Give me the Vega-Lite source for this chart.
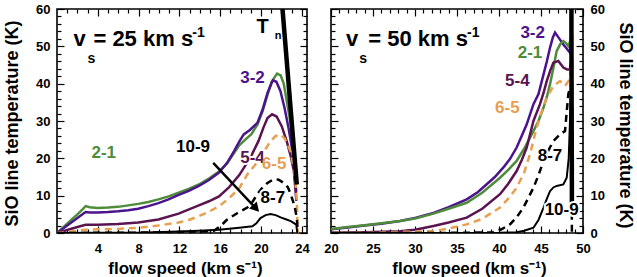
{
  "$schema": "https://vega.github.io/schema/vega-lite/v6.json",
  "padding": {"left": 2, "top": 2, "right": 0, "bottom": 0},
  "spacing": 24,
  "bounds": "flush",
  "config": {
    "axis": {"labelFont": "Liberation Sans", "labelFontWeight": "bold", "labelFontSize": 13, "labelColor": "black",
             "titleFont": "Liberation Sans", "titleFontWeight": "bold", "titleFontSize": 17, "titleColor": "black",
             "tickColor": "black", "tickWidth": 1.2, "domain": false, "grid": false, "labelFlush": false, "labelOverlap": false},
    "view": {"stroke": "black", "strokeWidth": 1.6},
    "text": {"font": "Liberation Sans", "fontWeight": "bold"}
  },
  "datasets": {
    "linesL": [
      {"s":"2-1","v":0,"T":0},{"s":"2-1","v":0.5,"T":1.2},{"s":"2-1","v":1,"T":2.5},{"s":"2-1","v":1.5,"T":3.8},{"s":"2-1","v":2,"T":5},{"s":"2-1","v":2.5,"T":6.3},{"s":"2-1","v":2.81,"T":7.2},{"s":"2-1","v":3.2,"T":6.9},{"s":"2-1","v":4,"T":6.7},{"s":"2-1","v":4.99,"T":6.8},{"s":"2-1","v":5.98,"T":7.0},{"s":"2-1","v":6.97,"T":7.4},{"s":"2-1","v":7.96,"T":7.8},{"s":"2-1","v":8.95,"T":8.3},{"s":"2-1","v":9.94,"T":9.0},{"s":"2-1","v":10.93,"T":9.8},{"s":"2-1","v":11.92,"T":10.8},{"s":"2-1","v":12.91,"T":11.8},{"s":"2-1","v":13.9,"T":13.0},{"s":"2-1","v":14.89,"T":14.6},{"s":"2-1","v":15.88,"T":16.5},{"s":"2-1","v":16.67,"T":18.6},{"s":"2-1","v":17.37,"T":21.5},{"s":"2-1","v":17.86,"T":23.5},{"s":"2-1","v":18.45,"T":25},{"s":"2-1","v":19.05,"T":26.5},{"s":"2-1","v":19.64,"T":29},{"s":"2-1","v":20.14,"T":32.5},{"s":"2-1","v":20.63,"T":37},{"s":"2-1","v":21.03,"T":40.5},{"s":"2-1","v":21.57,"T":42.7},{"s":"2-1","v":21.92,"T":42.2},{"s":"2-1","v":22.22,"T":40},{"s":"2-1","v":22.51,"T":35.5},{"s":"2-1","v":22.91,"T":29},{"s":"2-1","v":23.21,"T":23.5},{"s":"2-1","v":23.45,"T":13},
      {"s":"3-2","v":0,"T":0},{"s":"3-2","v":0.5,"T":1},{"s":"3-2","v":1,"T":2},{"s":"3-2","v":1.5,"T":3},{"s":"3-2","v":2,"T":4},{"s":"3-2","v":2.5,"T":5},{"s":"3-2","v":2.81,"T":5.6},{"s":"3-2","v":3.2,"T":5.5},{"s":"3-2","v":4,"T":5.5},{"s":"3-2","v":4.99,"T":5.6},{"s":"3-2","v":5.98,"T":5.8},{"s":"3-2","v":6.97,"T":6.1},{"s":"3-2","v":7.96,"T":6.5},{"s":"3-2","v":8.95,"T":7.2},{"s":"3-2","v":9.94,"T":8.0},{"s":"3-2","v":10.93,"T":9.0},{"s":"3-2","v":11.92,"T":10.2},{"s":"3-2","v":12.91,"T":11.3},{"s":"3-2","v":13.9,"T":12.6},{"s":"3-2","v":14.89,"T":14.2},{"s":"3-2","v":15.88,"T":16.2},{"s":"3-2","v":16.67,"T":18.8},{"s":"3-2","v":17.37,"T":22},{"s":"3-2","v":17.86,"T":24.5},{"s":"3-2","v":18.3,"T":26.4},{"s":"3-2","v":18.9,"T":27.6},{"s":"3-2","v":19.64,"T":29.5},{"s":"3-2","v":20.14,"T":33},{"s":"3-2","v":20.63,"T":37.5},{"s":"3-2","v":21.03,"T":40.2},{"s":"3-2","v":21.17,"T":40.9},{"s":"3-2","v":21.5,"T":40.5},{"s":"3-2","v":21.9,"T":38},{"s":"3-2","v":22.3,"T":33.5},{"s":"3-2","v":22.7,"T":28},{"s":"3-2","v":23.1,"T":21.5},{"s":"3-2","v":23.45,"T":11},
      {"s":"5-4","v":0,"T":0},{"s":"5-4","v":1,"T":0.8},{"s":"5-4","v":2,"T":1.6},{"s":"5-4","v":2.81,"T":2.2},{"s":"5-4","v":4,"T":2.2},{"s":"5-4","v":5.98,"T":2.4},{"s":"5-4","v":7.96,"T":2.8},{"s":"5-4","v":9.94,"T":3.6},{"s":"5-4","v":11.92,"T":5.2},{"s":"5-4","v":13.9,"T":7.4},{"s":"5-4","v":14.89,"T":8.5},{"s":"5-4","v":15.88,"T":9.8},{"s":"5-4","v":16.87,"T":12.3},{"s":"5-4","v":17.86,"T":15.5},{"s":"5-4","v":18.95,"T":20.2},{"s":"5-4","v":19.74,"T":24.6},{"s":"5-4","v":20.24,"T":28.3},{"s":"5-4","v":20.63,"T":30.8},{"s":"5-4","v":21.08,"T":31.8},{"s":"5-4","v":21.52,"T":31.2},{"s":"5-4","v":22.02,"T":28.6},{"s":"5-4","v":22.51,"T":24.6},{"s":"5-4","v":22.91,"T":20.5},{"s":"5-4","v":23.21,"T":16.6},{"s":"5-4","v":23.46,"T":8.6},
      {"s":"6-5","v":0,"T":0},{"s":"6-5","v":1,"T":0.3},{"s":"6-5","v":2,"T":0.6},{"s":"6-5","v":2.81,"T":0.9},{"s":"6-5","v":4,"T":1.0},{"s":"6-5","v":5.98,"T":1.1},{"s":"6-5","v":7.96,"T":1.4},{"s":"6-5","v":9.94,"T":2.0},{"s":"6-5","v":11.92,"T":2.8},{"s":"6-5","v":12.91,"T":3.5},{"s":"6-5","v":13.9,"T":4.5},{"s":"6-5","v":14.89,"T":5.7},{"s":"6-5","v":15.88,"T":7.2},{"s":"6-5","v":16.87,"T":9.3},{"s":"6-5","v":17.86,"T":12},{"s":"6-5","v":18.65,"T":15.7},{"s":"6-5","v":19.35,"T":18},{"s":"6-5","v":19.94,"T":20.2},{"s":"6-5","v":20.44,"T":22.5},{"s":"6-5","v":20.93,"T":24.6},{"s":"6-5","v":21.43,"T":26},{"s":"6-5","v":21.9,"T":26.4},{"s":"6-5","v":22.32,"T":25.3},{"s":"6-5","v":22.88,"T":22},{"s":"6-5","v":23.15,"T":18},{"s":"6-5","v":23.36,"T":13.9},{"s":"6-5","v":23.5,"T":8.6},{"s":"6-5","v":23.6,"T":0},
      {"s":"8-7","v":0,"T":0},{"s":"8-7","v":4,"T":0.05},{"s":"8-7","v":7.96,"T":0.1},{"s":"8-7","v":11.92,"T":0.25},{"s":"8-7","v":13.9,"T":0.4},{"s":"8-7","v":14.89,"T":0.5},{"s":"8-7","v":15.38,"T":0.6},{"s":"8-7","v":16.08,"T":2.0},{"s":"8-7","v":16.67,"T":3.6},{"s":"8-7","v":17.66,"T":5.3},{"s":"8-7","v":18.65,"T":6.8},{"s":"8-7","v":19.15,"T":8.3},{"s":"8-7","v":19.64,"T":10.4},{"s":"8-7","v":20.14,"T":12.2},{"s":"8-7","v":20.63,"T":13.4},{"s":"8-7","v":21.23,"T":14.4},{"s":"8-7","v":21.72,"T":14.3},{"s":"8-7","v":22.22,"T":13.4},{"s":"8-7","v":22.61,"T":12.3},{"s":"8-7","v":22.91,"T":10.4},{"s":"8-7","v":23.3,"T":7},{"s":"8-7","v":23.5,"T":4},{"s":"8-7","v":23.6,"T":0.4},
      {"s":"10-9","v":0,"T":0},{"s":"10-9","v":4,"T":0.05},{"s":"10-9","v":7.96,"T":0.1},{"s":"10-9","v":11.92,"T":0.4},{"s":"10-9","v":13.9,"T":0.6},{"s":"10-9","v":15.88,"T":0.9},{"s":"10-9","v":17.86,"T":1.4},{"s":"10-9","v":19.15,"T":1.8},{"s":"10-9","v":19.54,"T":2.6},{"s":"10-9","v":19.94,"T":4.0},{"s":"10-9","v":20.44,"T":4.8},{"s":"10-9","v":20.93,"T":5.1},{"s":"10-9","v":21.43,"T":4.8},{"s":"10-9","v":21.92,"T":4.2},{"s":"10-9","v":22.42,"T":3.7},{"s":"10-9","v":22.91,"T":3.2},{"s":"10-9","v":23.3,"T":2.5},{"s":"10-9","v":23.45,"T":2.2},{"s":"10-9","v":23.55,"T":0},
      {"s":"Tn","v":22.1,"T":60},{"s":"Tn","v":23.5,"T":13}
    ],
    "linesR": [
      {"s":"3-2","v":20,"T":1.0},{"s":"3-2","v":22,"T":1.5},{"s":"3-2","v":24,"T":2.0},{"s":"3-2","v":26,"T":2.5},{"s":"3-2","v":28.2,"T":3.2},{"s":"3-2","v":30,"T":4.0},{"s":"3-2","v":32.2,"T":5.4},{"s":"3-2","v":34,"T":6.9},{"s":"3-2","v":36.15,"T":9.0},{"s":"3-2","v":37.5,"T":11},{"s":"3-2","v":38.5,"T":13},{"s":"3-2","v":39.5,"T":15},{"s":"3-2","v":40.5,"T":17.5},{"s":"3-2","v":41.3,"T":19.8},{"s":"3-2","v":42.1,"T":22.9},{"s":"3-2","v":42.7,"T":26},{"s":"3-2","v":43.3,"T":29.1},{"s":"3-2","v":44.1,"T":34.5},{"s":"3-2","v":44.7,"T":37.2},{"s":"3-2","v":45.3,"T":42.5},{"s":"3-2","v":45.7,"T":46},{"s":"3-2","v":46.07,"T":49.6},{"s":"3-2","v":46.4,"T":52.3},{"s":"3-2","v":46.67,"T":53.7},{"s":"3-2","v":47.2,"T":52},{"s":"3-2","v":47.66,"T":50.5},{"s":"3-2","v":48.1,"T":49.3},{"s":"3-2","v":48.45,"T":48.3},{"s":"3-2","v":48.6,"T":51},{"s":"3-2","v":48.65,"T":54},
      {"s":"2-1","v":20,"T":1.1},{"s":"2-1","v":22,"T":1.6},{"s":"2-1","v":24,"T":2.1},{"s":"2-1","v":26,"T":2.6},{"s":"2-1","v":28.2,"T":3.2},{"s":"2-1","v":30,"T":3.9},{"s":"2-1","v":32.2,"T":5.2},{"s":"2-1","v":34,"T":6.5},{"s":"2-1","v":36.15,"T":8.1},{"s":"2-1","v":38,"T":10.8},{"s":"2-1","v":40.12,"T":14.8},{"s":"2-1","v":41.1,"T":16.9},{"s":"2-1","v":42.1,"T":19.3},{"s":"2-1","v":43.1,"T":23},{"s":"2-1","v":44.1,"T":27.3},{"s":"2-1","v":44.7,"T":30},{"s":"2-1","v":45.3,"T":33.6},{"s":"2-1","v":45.7,"T":36.5},{"s":"2-1","v":46.07,"T":39.8},{"s":"2-1","v":46.5,"T":44.5},{"s":"2-1","v":46.87,"T":48.8},{"s":"2-1","v":47.3,"T":50.6},{"s":"2-1","v":47.66,"T":51.4},{"s":"2-1","v":48,"T":50.8},{"s":"2-1","v":48.25,"T":50.1},{"s":"2-1","v":48.5,"T":51.5},{"s":"2-1","v":48.65,"T":55},
      {"s":"5-4","v":20,"T":0.1},{"s":"5-4","v":24,"T":0.2},{"s":"5-4","v":28.2,"T":0.5},{"s":"5-4","v":30,"T":0.9},{"s":"5-4","v":32.2,"T":1.9},{"s":"5-4","v":34,"T":2.8},{"s":"5-4","v":36.15,"T":4.1},{"s":"5-4","v":38,"T":6.5},{"s":"5-4","v":40.12,"T":10.4},{"s":"5-4","v":41.1,"T":13.2},{"s":"5-4","v":42.1,"T":16.6},{"s":"5-4","v":42.7,"T":19.5},{"s":"5-4","v":43.3,"T":22.9},{"s":"5-4","v":44.1,"T":30},{"s":"5-4","v":44.88,"T":34.5},{"s":"5-4","v":45.3,"T":37.5},{"s":"5-4","v":45.68,"T":40.7},{"s":"5-4","v":46.1,"T":43.5},{"s":"5-4","v":46.47,"T":45.6},{"s":"5-4","v":47.06,"T":46.1},{"s":"5-4","v":47.66,"T":44.3},{"s":"5-4","v":48.1,"T":43.8},{"s":"5-4","v":48.45,"T":43.8},{"s":"5-4","v":48.65,"T":48},
      {"s":"6-5","v":20,"T":0},{"s":"6-5","v":25,"T":0.1},{"s":"6-5","v":28.2,"T":0.3},{"s":"6-5","v":32.2,"T":0.5},{"s":"6-5","v":34,"T":1.2},{"s":"6-5","v":36.15,"T":2.3},{"s":"6-5","v":38,"T":3.8},{"s":"6-5","v":40.12,"T":6.8},{"s":"6-5","v":41.1,"T":9.2},{"s":"6-5","v":42.1,"T":12.1},{"s":"6-5","v":43,"T":16.2},{"s":"6-5","v":43.69,"T":21.1},{"s":"6-5","v":44.48,"T":28.2},{"s":"6-5","v":45,"T":32},{"s":"6-5","v":45.68,"T":36.2},{"s":"6-5","v":46.47,"T":39.4},{"s":"6-5","v":47.26,"T":40.7},{"s":"6-5","v":47.86,"T":39.4},{"s":"6-5","v":48.45,"T":41.2},{"s":"6-5","v":48.65,"T":51},
      {"s":"8-7","v":20,"T":0},{"s":"8-7","v":30,"T":0},{"s":"8-7","v":36,"T":0.05},{"s":"8-7","v":39.3,"T":0.2},{"s":"8-7","v":40.3,"T":1},{"s":"8-7","v":41.3,"T":2.3},{"s":"8-7","v":42.1,"T":4.2},{"s":"8-7","v":42.9,"T":6.8},{"s":"8-7","v":44.1,"T":12.1},{"s":"8-7","v":44.7,"T":15.5},{"s":"8-7","v":45.3,"T":19.3},{"s":"8-7","v":45.9,"T":22.2},{"s":"8-7","v":46.47,"T":24.6},{"s":"8-7","v":47.26,"T":26.4},{"s":"8-7","v":47.86,"T":27.3},{"s":"8-7","v":48.25,"T":37.2},{"s":"8-7","v":48.6,"T":40},{"s":"8-7","v":48.68,"T":0},
      {"s":"10-9","v":20,"T":0},{"s":"10-9","v":36,"T":0},{"s":"10-9","v":40,"T":0.05},{"s":"10-9","v":42.1,"T":0.2},{"s":"10-9","v":43,"T":0.6},{"s":"10-9","v":44.1,"T":1.4},{"s":"10-9","v":44.7,"T":3.5},{"s":"10-9","v":45.3,"T":6.8},{"s":"10-9","v":45.7,"T":9.2},{"s":"10-9","v":46.07,"T":11.2},{"s":"10-9","v":46.47,"T":12.2},{"s":"10-9","v":46.87,"T":12.6},{"s":"10-9","v":47.66,"T":13},{"s":"10-9","v":48.06,"T":14.8},{"s":"10-9","v":48.3,"T":20},{"s":"10-9","v":48.45,"T":30},{"s":"10-9","v":48.6,"T":45},
      {"s":"Tn","v":48.62,"T":60},{"s":"Tn","v":48.68,"T":8}
    ],
    "labL": [
      {"s":"3-2","v":19.16,"T":41.4},{"s":"2-1","v":4.58,"T":21.5},{"s":"10-9","v":13.33,"T":23.1},{"s":"5-4","v":19.16,"T":20.2},{"s":"6-5","v":21.28,"T":18.4},{"s":"8-7","v":21.15,"T":9.5}
    ],
    "labR": [
      {"s":"3-2","v":44.01,"T":53.7},{"s":"2-1","v":43.69,"T":48.3},{"s":"5-4","v":42.18,"T":40.7},{"s":"6-5","v":40.99,"T":33.4},{"s":"8-7","v":46.07,"T":20.6},{"s":"10-9","v":47.46,"T":6.1}
    ],
    "annL": [
      {"t":"v","g":"big","v":1.61,"T":50.1},{"t":"= 25 km s","g":"big","v":3.57,"T":50.1},{"t":"s","g":"small","v":2.98,"T":45.6},{"t":"-1","g":"small","v":13.26,"T":52.6},{"t":"T","g":"mid","v":19.55,"T":53.6},{"t":"n","g":"tiny","v":21.35,"T":52}
    ],
    "annR": [
      {"t":"v","g":"big","v":21.79,"T":50.1},{"t":"= 50 km s","g":"big","v":24.44,"T":50.1},{"t":"s","g":"small","v":23.37,"T":45.6},{"t":"-1","g":"small","v":36.19,"T":52.6}
    ],
    "arrow": [{"v":15.31,"T":18.8},{"v":19.45,"T":6.7}],
    "arrowHead": [{"v":19.5,"T":6.6}]
  },
  "hconcat": [
    {
      "width": 250, "height": 224,
      "layer": [
        {
          "data": {"name": "linesL"},
          "transform": [{"filter": "datum.s === '2-1' || datum.s === '3-2' || datum.s === '5-4'"}],
          "mark": {"type": "line", "strokeWidth": 2.5, "clip": true},
          "encoding": {
            "x": {"field": "v", "type": "quantitative", "scale": {"domain": [0, 24.5], "nice": false, "zero": false},
                  "axis": {"orient": "bottom", "values": [1,2,3,4,5,6,7,8,9,10,11,12,13,14,15,16,17,18,19,20,21,22,23,24],
                           "labelExpr": "datum.value % 4 === 0 ? datum.label : ''",
                           "tickSize": {"condition": {"test": "datum.value % 4 === 0", "value": -7}, "value": -4},
                           "labelPadding": 16, "title": "flow speed (km s⁻¹)", "titlePadding": 2, "titleX": 128}},
            "y": {"field": "T", "type": "quantitative", "scale": {"domain": [0, 60], "nice": false},
                  "axis": {"orient": "left", "values": [0,2,4,6,8,10,12,14,16,18,20,22,24,26,28,30,32,34,36,38,40,42,44,46,48,50,52,54,56,58,60],
                           "labelExpr": "datum.value % 10 === 0 ? datum.label : ''",
                           "tickSize": {"condition": {"test": "datum.value % 10 === 0", "value": -7}, "value": -4},
                           "labelPadding": 14, "title": "SiO line temperature (K)", "titleFontSize": 18, "titlePadding": 14, "titleY": 114}},
            "color": {"field": "s", "type": "nominal", "legend": null,
                      "scale": {"domain": ["2-1","3-2","5-4","6-5","8-7","10-9","Tn"], "range": ["#4e8c3c","#4b148c","#5a1450","#e6a050","#000000","#000000","#000000"]}},
            "detail": {"field": "s"}
          }
        },
        {
          "data": {"name": "linesL"},
          "transform": [{"filter": "datum.s === '6-5' || datum.s === '8-7'"}],
          "mark": {"type": "line", "strokeWidth": 2.5, "strokeDash": [7, 5], "clip": true},
          "encoding": {
            "x": {"field": "v", "type": "quantitative", "axis": null},
            "y": {"field": "T", "type": "quantitative", "axis": null},
            "color": {"field": "s", "type": "nominal", "legend": null},
            "detail": {"field": "s"}
          }
        },
        {
          "data": {"name": "linesL"},
          "transform": [{"filter": "datum.s === '10-9'"}],
          "mark": {"type": "line", "strokeWidth": 2, "color": "black", "clip": true},
          "encoding": {
            "x": {"field": "v", "type": "quantitative", "axis": null},
            "y": {"field": "T", "type": "quantitative", "axis": null}
          }
        },
        {
          "data": {"name": "linesL"},
          "transform": [{"filter": "datum.s === 'Tn'"}],
          "mark": {"type": "line", "strokeWidth": 4.5, "color": "black", "clip": true},
          "encoding": {
            "x": {"field": "v", "type": "quantitative",
                  "axis": {"orient": "top", "values": [1,2,3,4,5,6,7,8,9,10,11,12,13,14,15,16,17,18,19,20,21,22,23,24], "labels": false, "title": null,
                           "tickSize": {"condition": {"test": "datum.value % 4 === 0", "value": -7}, "value": -4}}},
            "y": {"field": "T", "type": "quantitative",
                  "axis": {"orient": "right", "values": [0,2,4,6,8,10,12,14,16,18,20,22,24,26,28,30,32,34,36,38,40,42,44,46,48,50,52,54,56,58,60], "labels": false, "title": null,
                           "tickSize": {"condition": {"test": "datum.value % 10 === 0", "value": -7}, "value": -4}}}
          }
        },
        {
          "data": {"name": "arrow"},
          "mark": {"type": "line", "strokeWidth": 2.5, "color": "black"},
          "encoding": {
            "x": {"field": "v", "type": "quantitative", "axis": null},
            "y": {"field": "T", "type": "quantitative", "axis": null}
          }
        },
        {
          "data": {"name": "arrowHead"},
          "mark": {"type": "point", "shape": "triangle-right", "filled": true, "color": "black", "size": 110, "angle": 47, "opacity": 1},
          "encoding": {
            "x": {"field": "v", "type": "quantitative", "axis": null},
            "y": {"field": "T", "type": "quantitative", "axis": null}
          }
        },
        {
          "data": {"name": "labL"},
          "mark": {"type": "text", "fontSize": 17, "align": "center", "baseline": "middle", "stroke": "white", "strokeWidth": 4, "color": "white"},
          "encoding": {
            "x": {"field": "v", "type": "quantitative", "axis": null},
            "y": {"field": "T", "type": "quantitative", "axis": null},
            "text": {"field": "s"}
          }
        },
        {
          "data": {"name": "labL"},
          "mark": {"type": "text", "fontSize": 17, "align": "center", "baseline": "middle"},
          "encoding": {
            "x": {"field": "v", "type": "quantitative", "axis": null},
            "y": {"field": "T", "type": "quantitative", "axis": null},
            "text": {"field": "s"},
            "color": {"field": "s", "type": "nominal", "legend": null}
          }
        },
        {
          "data": {"name": "annL"},
          "transform": [{"filter": "datum.g === 'big'"}],
          "mark": {"type": "text", "fontSize": 22, "align": "left", "baseline": "alphabetic", "color": "black"},
          "encoding": {
            "x": {"field": "v", "type": "quantitative", "axis": null},
            "y": {"field": "T", "type": "quantitative", "axis": null},
            "text": {"field": "t"}
          }
        },
        {
          "data": {"name": "annL"},
          "transform": [{"filter": "datum.g === 'small'"}],
          "mark": {"type": "text", "fontSize": 14, "align": "left", "baseline": "alphabetic", "color": "black"},
          "encoding": {
            "x": {"field": "v", "type": "quantitative", "axis": null},
            "y": {"field": "T", "type": "quantitative", "axis": null},
            "text": {"field": "t"}
          }
        },
        {
          "data": {"name": "annL"},
          "transform": [{"filter": "datum.g === 'mid'"}],
          "mark": {"type": "text", "fontSize": 20, "align": "left", "baseline": "alphabetic", "color": "black"},
          "encoding": {
            "x": {"field": "v", "type": "quantitative", "axis": null},
            "y": {"field": "T", "type": "quantitative", "axis": null},
            "text": {"field": "t"}
          }
        },
        {
          "data": {"name": "annL"},
          "transform": [{"filter": "datum.g === 'tiny'"}],
          "mark": {"type": "text", "fontSize": 11, "align": "left", "baseline": "alphabetic", "color": "black"},
          "encoding": {
            "x": {"field": "v", "type": "quantitative", "axis": null},
            "y": {"field": "T", "type": "quantitative", "axis": null},
            "text": {"field": "t"}
          }
        }
      ]
    },
    {
      "width": 252, "height": 224,
      "layer": [
        {
          "data": {"name": "linesR"},
          "transform": [{"filter": "datum.s === '2-1' || datum.s === '3-2' || datum.s === '5-4'"}],
          "mark": {"type": "line", "strokeWidth": 2.5, "clip": true},
          "encoding": {
            "x": {"field": "v", "type": "quantitative", "scale": {"domain": [20, 50], "nice": false, "zero": false},
                  "axis": {"orient": "bottom", "values": [20,21,22,23,24,25,26,27,28,29,30,31,32,33,34,35,36,37,38,39,40,41,42,43,44,45,46,47,48,49,50],
                           "labelExpr": "datum.value % 5 === 0 ? datum.label : ''",
                           "tickSize": {"condition": {"test": "datum.value % 5 === 0", "value": -7}, "value": -4},
                           "labelPadding": 16, "title": "flow speed (km s⁻¹)", "titlePadding": 2, "titleX": 138}},
            "y": {"field": "T", "type": "quantitative", "scale": {"domain": [0, 60], "nice": false},
                  "axis": {"orient": "right", "values": [0,2,4,6,8,10,12,14,16,18,20,22,24,26,28,30,32,34,36,38,40,42,44,46,48,50,52,54,56,58,60],
                           "labelExpr": "datum.value % 10 === 0 ? datum.label : ''",
                           "tickSize": {"condition": {"test": "datum.value % 10 === 0", "value": -7}, "value": -4},
                           "labelPadding": 14, "title": "SiO line temperature (K)", "titleFontSize": 18, "titlePadding": 11, "titleY": 116}},
            "color": {"field": "s", "type": "nominal", "legend": null,
                      "scale": {"domain": ["2-1","3-2","5-4","6-5","8-7","10-9","Tn"], "range": ["#4e8c3c","#4b148c","#5a1450","#e6a050","#000000","#000000","#000000"]}},
            "detail": {"field": "s"}
          }
        },
        {
          "data": {"name": "linesR"},
          "transform": [{"filter": "datum.s === '6-5' || datum.s === '8-7'"}],
          "mark": {"type": "line", "strokeWidth": 2.5, "strokeDash": [7, 5], "clip": true},
          "encoding": {
            "x": {"field": "v", "type": "quantitative", "axis": null},
            "y": {"field": "T", "type": "quantitative", "axis": null},
            "color": {"field": "s", "type": "nominal", "legend": null},
            "detail": {"field": "s"}
          }
        },
        {
          "data": {"name": "linesR"},
          "transform": [{"filter": "datum.s === '10-9'"}],
          "mark": {"type": "line", "strokeWidth": 2, "color": "black", "clip": true},
          "encoding": {
            "x": {"field": "v", "type": "quantitative", "axis": null},
            "y": {"field": "T", "type": "quantitative", "axis": null}
          }
        },
        {
          "data": {"name": "linesR"},
          "transform": [{"filter": "datum.s === 'Tn'"}],
          "mark": {"type": "line", "strokeWidth": 4.5, "color": "black", "clip": true},
          "encoding": {
            "x": {"field": "v", "type": "quantitative",
                  "axis": {"orient": "top", "values": [20,21,22,23,24,25,26,27,28,29,30,31,32,33,34,35,36,37,38,39,40,41,42,43,44,45,46,47,48,49,50], "labels": false, "title": null,
                           "tickSize": {"condition": {"test": "datum.value % 5 === 0", "value": -7}, "value": -4}}},
            "y": {"field": "T", "type": "quantitative",
                  "axis": {"orient": "left", "values": [0,2,4,6,8,10,12,14,16,18,20,22,24,26,28,30,32,34,36,38,40,42,44,46,48,50,52,54,56,58,60], "labels": false, "title": null,
                           "tickSize": {"condition": {"test": "datum.value % 10 === 0", "value": -7}, "value": -4}}}
          }
        },
        {
          "data": {"name": "labR"},
          "mark": {"type": "text", "fontSize": 17, "align": "center", "baseline": "middle", "stroke": "white", "strokeWidth": 4, "color": "white"},
          "encoding": {
            "x": {"field": "v", "type": "quantitative", "axis": null},
            "y": {"field": "T", "type": "quantitative", "axis": null},
            "text": {"field": "s"}
          }
        },
        {
          "data": {"name": "labR"},
          "mark": {"type": "text", "fontSize": 17, "align": "center", "baseline": "middle"},
          "encoding": {
            "x": {"field": "v", "type": "quantitative", "axis": null},
            "y": {"field": "T", "type": "quantitative", "axis": null},
            "text": {"field": "s"},
            "color": {"field": "s", "type": "nominal", "legend": null}
          }
        },
        {
          "data": {"name": "annR"},
          "transform": [{"filter": "datum.g === 'big'"}],
          "mark": {"type": "text", "fontSize": 22, "align": "left", "baseline": "alphabetic", "color": "black"},
          "encoding": {
            "x": {"field": "v", "type": "quantitative", "axis": null},
            "y": {"field": "T", "type": "quantitative", "axis": null},
            "text": {"field": "t"}
          }
        },
        {
          "data": {"name": "annR"},
          "transform": [{"filter": "datum.g === 'small'"}],
          "mark": {"type": "text", "fontSize": 14, "align": "left", "baseline": "alphabetic", "color": "black"},
          "encoding": {
            "x": {"field": "v", "type": "quantitative", "axis": null},
            "y": {"field": "T", "type": "quantitative", "axis": null},
            "text": {"field": "t"}
          }
        }
      ]
    }
  ]
}
